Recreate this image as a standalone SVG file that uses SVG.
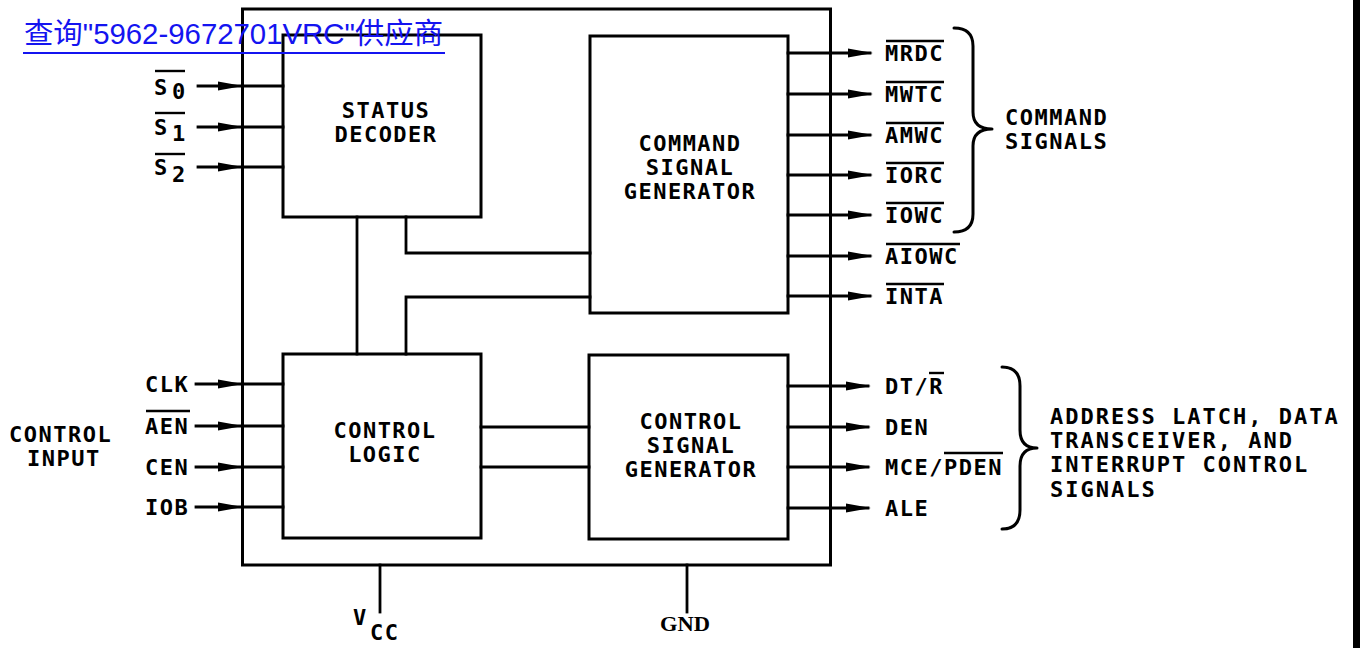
<svg xmlns="http://www.w3.org/2000/svg" width="1360" height="648" viewBox="0 0 1360 648">
<style>
.box{fill:none;stroke:#000;stroke-width:3}
.w{fill:none;stroke:#000;stroke-width:2.8;stroke-linecap:square}
.t{font-family:"DejaVu Sans Mono","Liberation Mono",monospace;font-weight:bold;font-size:22px;letter-spacing:1.5px;fill:#000}
.c{text-anchor:middle}
.wide{letter-spacing:2px}
.ov{stroke:#000;stroke-width:2.4}
.br{fill:none;stroke:#000;stroke-width:3;stroke-linecap:round;stroke-linejoin:round}
</style>
<defs>
<path id="ah" d="M-25,-4.5 L0,0 L-25,4.5 Z" fill="#000"/>
</defs>
<rect width="1360" height="648" fill="#fff"/>

<g id="package">
<rect class="box" x="242.5" y="9" width="588" height="556"/>
</g>

<g id="status-decoder">
<rect class="box" x="283" y="35" width="198" height="182"/>
<text class="t c" x="386" y="118">STATUS</text>
<text class="t c" x="386" y="142">DECODER</text>
</g>

<g id="command-signal-generator">
<rect class="box" x="590" y="36" width="198" height="277"/>
<text class="t c" x="690" y="151">COMMAND</text>
<text class="t c" x="690" y="175">SIGNAL</text>
<text class="t c" x="690" y="199">GENERATOR</text>
</g>

<g id="control-logic">
<rect class="box" x="283" y="354" width="198" height="184"/>
<text class="t c" x="385" y="438">CONTROL</text>
<text class="t c" x="385" y="462">LOGIC</text>
</g>

<g id="control-signal-generator">
<rect class="box" x="589" y="355" width="199" height="184"/>
<text class="t c" x="691" y="429">CONTROL</text>
<text class="t c" x="691" y="453">SIGNAL</text>
<text class="t c" x="691" y="477">GENERATOR</text>
</g>

<g id="connectors">
<path class="w" d="M357,217 V354"/>
<path class="w" d="M406,217 V253 H590"/>
<path class="w" d="M406,354 V297 H590"/>
<path class="w" d="M481,427 H589"/>
<path class="w" d="M481,467 H589"/>
<path class="w" d="M198,86 H283"/>
<path class="w" d="M198,127 H283"/>
<path class="w" d="M198,167 H283"/>
<use href="#ah" x="243" y="86"/>
<use href="#ah" x="243" y="127"/>
<use href="#ah" x="243" y="167"/>
<path class="w" d="M196,384 H283"/>
<path class="w" d="M196,426 H283"/>
<path class="w" d="M196,467 H283"/>
<path class="w" d="M196,507 H283"/>
<use href="#ah" x="243" y="384"/>
<use href="#ah" x="243" y="426"/>
<use href="#ah" x="243" y="467"/>
<use href="#ah" x="243" y="507"/>
<path class="w" d="M788,53 H870"/>
<path class="w" d="M788,94 H870"/>
<path class="w" d="M788,135 H870"/>
<path class="w" d="M788,175 H870"/>
<path class="w" d="M788,215 H870"/>
<path class="w" d="M788,256 H870"/>
<path class="w" d="M788,296 H870"/>
<use href="#ah" x="873" y="53"/>
<use href="#ah" x="873" y="94"/>
<use href="#ah" x="873" y="135"/>
<use href="#ah" x="873" y="175"/>
<use href="#ah" x="873" y="215"/>
<use href="#ah" x="873" y="256"/>
<use href="#ah" x="873" y="296"/>
<path class="w" d="M788,386 H868"/>
<path class="w" d="M788,427 H868"/>
<path class="w" d="M788,467 H868"/>
<path class="w" d="M788,508 H868"/>
<use href="#ah" x="871" y="386"/>
<use href="#ah" x="871" y="427"/>
<use href="#ah" x="871" y="467"/>
<use href="#ah" x="871" y="508"/>
<path class="w" d="M380,565 V612"/>
<path class="w" d="M687,565 V612"/>
<path class="br" d="M954,28 Q973,28 973,46 V112 Q973,129 992,129 Q973,129 973,146 V214 Q973,232 954,232"/>
<path class="br" d="M1002,367 Q1020,367 1020,386 V430 Q1020,448 1037,448 Q1020,448 1020,466 V510 Q1020,529 1002,529"/>
</g>

<g id="labels">
<text class="t" x="154" y="95" font-size="23">S</text><text class="t" x="172" y="99" font-size="20">0</text>
<line class="ov" x1="155" y1="71" x2="185" y2="71"/>
<text class="t" x="154" y="135" font-size="23">S</text><text class="t" x="172" y="141" font-size="20">1</text>
<line class="ov" x1="155" y1="113" x2="185" y2="113"/>
<text class="t" x="154" y="175" font-size="23">S</text><text class="t" x="172" y="182" font-size="20">2</text>
<line class="ov" x1="155" y1="154" x2="185" y2="154"/>

<text class="t" x="145" y="392">CLK</text>
<text class="t" x="145" y="434">AEN</text>
<line class="ov" x1="146" y1="411" x2="190" y2="411"/>
<text class="t" x="145" y="475">CEN</text>
<text class="t" x="145" y="515">IOB</text>
<text class="t" x="9" y="442">CONTROL</text>
<text class="t" x="27" y="466">INPUT</text>

<text class="t" x="885" y="61">MRDC</text>
<line class="ov" x1="886" y1="41" x2="944" y2="41"/>
<text class="t" x="885" y="102">MWTC</text>
<line class="ov" x1="886" y1="82" x2="944" y2="82"/>
<text class="t" x="885" y="143">AMWC</text>
<line class="ov" x1="886" y1="123" x2="944" y2="123"/>
<text class="t" x="885" y="183">IORC</text>
<line class="ov" x1="886" y1="163" x2="944" y2="163"/>
<text class="t" x="885" y="223">IOWC</text>
<line class="ov" x1="886" y1="203" x2="944" y2="203"/>
<text class="t" x="885" y="264">AIOWC</text>
<line class="ov" x1="886" y1="244" x2="960" y2="244"/>
<text class="t" x="885" y="304">INTA</text>
<line class="ov" x1="886" y1="284" x2="944" y2="284"/>
<text class="t" x="1005" y="125">COMMAND</text>
<text class="t" x="1005" y="149">SIGNALS</text>

<text class="t" x="885" y="394">DT/R</text>
<line class="ov" x1="929" y1="373" x2="944" y2="373"/>
<text class="t" x="885" y="435">DEN</text>
<text class="t" x="885" y="475">MCE/PDEN</text>
<line class="ov" x1="944" y1="453" x2="1003" y2="453"/>
<text class="t" x="885" y="516">ALE</text>
<text class="t wide" x="1050" y="424">ADDRESS LATCH, DATA</text>
<text class="t wide" x="1050" y="448">TRANSCEIVER, AND</text>
<text class="t wide" x="1050" y="472">INTERRUPT CONTROL</text>
<text class="t wide" x="1050" y="497">SIGNALS</text>

<text class="t" x="353" y="625" font-size="15">V</text>
<text class="t" x="370" y="640">CC</text>
<text x="660" y="631" font-family="Liberation Serif,serif" font-weight="bold" font-size="21" textLength="50" lengthAdjust="spacingAndGlyphs">GND</text>
</g>

<g id="link">
<text x="24" y="44" font-family="Liberation Sans,'Noto Sans CJK SC',sans-serif" font-size="29" fill="#1414f0" textLength="419" lengthAdjust="spacingAndGlyphs">查询"5962-9672701VRC"供应商</text>
<line x1="23" y1="53" x2="445" y2="53" stroke="#1414f0" stroke-width="2"/>
</g>

<rect id="edge-bar" x="1353" y="0" width="7" height="648" fill="#000"/>
</svg>
